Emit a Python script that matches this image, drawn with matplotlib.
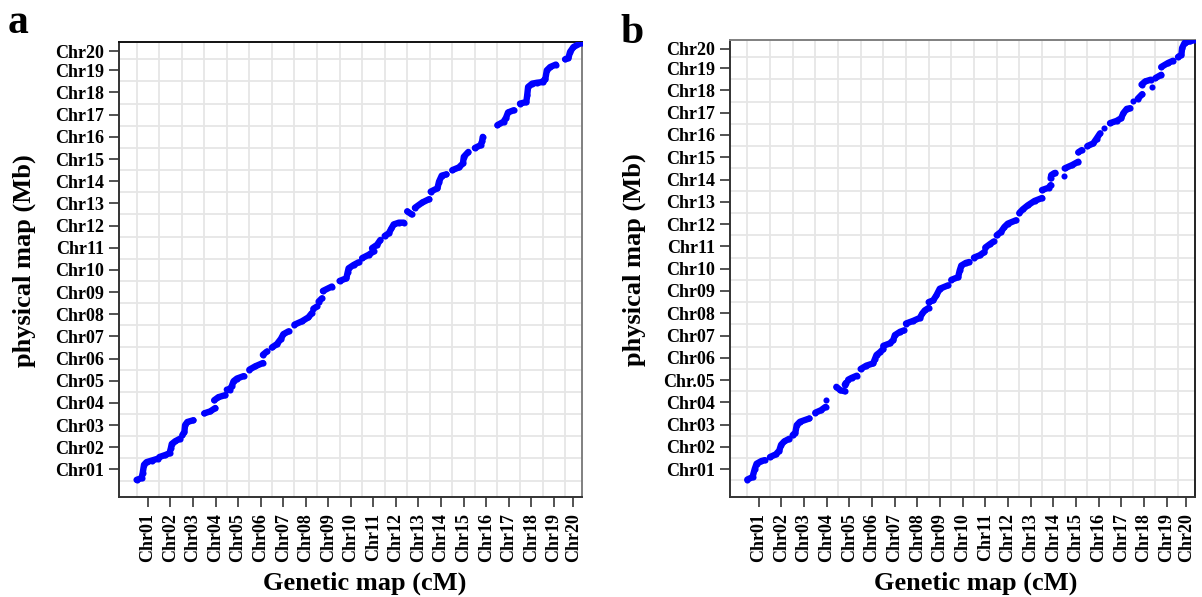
import numpy as np
import matplotlib
matplotlib.use("Agg")
import matplotlib.pyplot as plt

nan = np.nan

# chromosome names and relative lengths (Chr20 is shorter on both maps)
chrom_names = ["Chr%02d" % i for i in range(1, 21)]
chrom_len = [1.0] * 19 + [0.74]
b_ylabels = list(chrom_names)
b_ylabels[4] = "Chr.05"

# panel a: positions within each chromosome (genetic, physical), 0..1 of chromosome
a_gen = [
    [0, .22, .27, .33, .44, .67, .96],
    [.01, .27, .46, .52, .56, .71, .93],
    [.03, .12, .15, .25, .52],
    [0, .27, .49, nan, .44, .63, .93],
    [0, .12, .22, .3, .45, .75],
    [0, .26, .6, nan, .6, .78],
    [0, .22, .4, .51, .74],
    [0, .33, .62, .77, nan, .84, 1],
    [.07, .22, nan, .26, .66],
    [0, .3, .36, .4, .62, .84],
    [0, .29, .51, nan, .44, .66, .81],
    [0, .18, .3, .4, .63, .85],
    [0, .2, nan, .34, .67, .97],
    [.04, .34, .41, .53, .74],
    [0, .29, .47, .51, .71],
    [0, .25, .32, .35],
    [0, .27, .38, .47, .72],
    [0, .28, .32, .36, .54, .75, 1],
    [0, .12, .19, .34, .59],
    [0, .15, .22, .37, .74],
]
a_phys = [
    [.03, .11, .33, .71, .83, .9, .99],
    [.06, .15, .23, .46, .65, .77, .89],
    [.05, .2, .5, .64, .72],
    [.03, .12, .27, nan, .62, .76, .85],
    [.1, .1, .26, .48, .6, .71],
    [0, .15, .3, nan, .67, .82],
    [0, .15, .39, .6, .73],
    [.03, .18, .36, .55, nan, .75, .85],
    [.07, .22, nan, .55, .75],
    [0, .12, .39, .57, .72, .84],
    [.03, .18, .33, nan, .48, .63, .85],
    [.03, .15, .37, .55, .63, .63],
    [.14, 0, nan, .3, .54, .69],
    [.03, .18, .48, .75, .81],
    [0, .12, .3, .6, .82],
    [0, .12, .3, .5],
    [.03, .18, .36, .6, .7],
    [0, .07, .37, .75, .9, .94, .97],
    [0, .09, .5, .65, .76],
    [0, .06, .33, .55, .75],
]

# panel b
b_gen = [
    [0, .23, .33, .41, .62, .77],
    [0, .26, .41, .49, .63, .85],
    [0, .12, .18, .32, .74],
    [0, .25, .45, nan, .47],
    [-.07, .1, .3, nan, .3, .35, nan, .45, .6, .83],
    [0, .25, .55, .63, .7, .85, 1],
    [0, .29, .44, .51, .74, .91],
    [0, .32, .61, .72, .83, 1],
    [0, .2, .34, .49, .85],
    [0, .3, .37, .44, .64, .79],
    [0, .25, .46, nan, .5, .7, .87],
    [0, .19, .34, .49, .85],
    [0, .15, .37, .67, 1],
    [0, .29, .38, nan, .38, .41, .53, .59, nan, .97],
    [0, .33, .6, nan, .6, .75],
    [0, .26, .41, .56, nan, .75],
    [0, .29, .49, .59, .74, .88],
    [0, nan, .22, .42, nan, .39, .55, .8, nan, .87],
    [0, .26, nan, .26, .56, .78],
    [0, .15, .18, .29, .51, .71],
]
b_phys = [
    [.04, .15, .52, .75, .87, .91],
    [.05, .17, .34, .6, .75, .87],
    [.03, .15, .48, .63, .78],
    [.04, .15, .3, nan, .63],
    [.2, .05, 0, nan, .3, .38, nan, .52, .6, .7],
    [0, .15, .25, .45, .63, .75, .9],
    [.04, .15, .3, .52, .67, .73],
    [.04, .16, .29, .49, .63, .74],
    [0, .08, .3, .6, .75],
    [0, .12, .42, .64, .76, .8],
    [0, .1, .25, nan, .45, .6, .72],
    [0, .15, .37, .52, .67],
    [0, .16, .34, .54, .67],
    [.03, .13, .25, nan, .55, .7, .78, .8, nan, .67],
    [0, .15, .3, nan, .72, .82],
    [0, .12, .34, .57, nan, .82],
    [.03, .13, .25, .48, .67, .7],
    [.03, nan, .12, .33, nan, .76, .9, .98, nan, .67],
    [.05, .2, nan, .55, .73, .83],
    [0, .1, .4, .63, .7, .76],
]

serif = ["Liberation Serif", "DejaVu Serif"]
plt.rcParams["font.family"] = serif
plt.rcParams["font.weight"] = "bold"

starts = np.concatenate([[0], np.cumsum(chrom_len)[:-1]])
ends = np.cumsum(chrom_len)
centers = starts + np.array(chrom_len) / 2.0


def draw_panel(ax, gen, phys, ylabels, top_col, right_col):
    for i in range(len(chrom_names)):
        x = starts[i] + np.array(gen[i], dtype=float)
        y = starts[i] + np.array(phys[i], dtype=float)
        ax.plot(x, y, "-o", color="#0000ff", lw=4.6, ms=4.4, mew=0,
                solid_capstyle="round", solid_joinstyle="round", zorder=3)
    for g in np.arange(0, 20):
        ax.axvline(g, color="#e6e6e6", lw=1.3, zorder=1)
        ax.axhline(g, color="#e6e6e6", lw=1.3, zorder=1)
    ax.set_xlim(-0.78, ends[-1])
    ax.set_ylim(-0.73, ends[-1] + 0.02)
    ax.set_xticks(centers)
    ax.set_xticklabels(chrom_names, rotation=90)
    ax.set_yticks(centers)
    ax.set_yticklabels(ylabels)
    ax.tick_params(axis="both", direction="out", length=7.5, width=1.3,
                   color="#444444", labelsize=13)
    ax.tick_params(axis="x", pad=4.5)
    ax.tick_params(axis="y", pad=3)
    for lab in ax.get_xticklabels() + ax.get_yticklabels():
        lab.set_fontweight("bold")
    ax.set_xlabel("Genetic map (cM)", fontsize=19, fontweight="bold")
    ax.set_ylabel("physical map (Mb)", fontsize=19, fontweight="bold")
    ax.xaxis.set_label_coords(0.53, -0.165)
    ax.yaxis.set_label_coords(-0.18, 0.52)
    ax.spines["left"].set_color("#333333")
    ax.spines["bottom"].set_color("#333333")
    ax.spines["top"].set_color(top_col)
    ax.spines["right"].set_color(right_col)
    for s in ax.spines.values():
        s.set_linewidth(1.4)


fig = plt.figure(figsize=(12.02, 5.97), dpi=100)
ax_a = fig.add_axes([0.099, 0.168, 0.385, 0.761])
ax_b = fig.add_axes([0.607, 0.168, 0.387, 0.765])
draw_panel(ax_a, a_gen, a_phys, chrom_names, "#111111", "#808080")
draw_panel(ax_b, b_gen, b_phys, b_ylabels, "#808080", "#222222")

fig.text(0.006, 0.945, "a", fontsize=30, fontweight="bold")
fig.text(0.516, 0.928, "b", fontsize=30, fontweight="bold")

fig.savefig("out.png", dpi=100)
